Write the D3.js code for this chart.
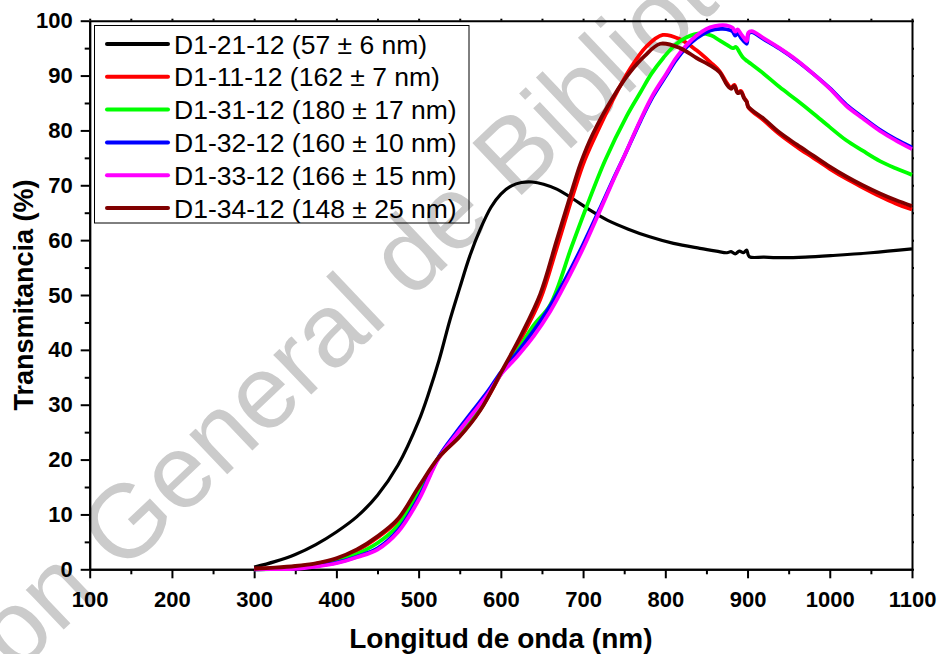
<!DOCTYPE html>
<html><head><meta charset="utf-8">
<script src="https://cdn.jsdelivr.net/npm/d3@7"></script>
<style>
body{margin:0;background:#fff}
svg{display:block}
text{font-family:"Liberation Sans",Arial,Helvetica,sans-serif}
</style>
</head><body>
<svg id="chart" width="941" height="654"></svg>
<script>
// ---------------- data ----------------
const xTickValues = [100,200,300,400,500,600,700,800,900,1000,1100];
const xMinorValues = [150,250,350,450,550,650,750,850,950,1050];
const yTickValues = [0,10,20,30,40,50,60,70,80,90,100];
const yMinorValues = [5,15,25,35,45,55,65,75,85,95];

const seriesLabels = [
  "D1-21-12 (57 \u00b1 6 nm)",
  "D1-11-12 (162 \u00b1 7 nm)",
  "D1-31-12 (180 \u00b1 17 nm)",
  "D1-32-12 (160 \u00b1 10 nm)",
  "D1-33-12 (166 \u00b1 15 nm)",
  "D1-34-12 (148 \u00b1 25 nm)"
];
const seriesColors = ["#000000","#ff0000","#00ff00","#0000ff","#ff00ff","#800000"];

const d1_21_12 = [[300,0.4],[325,1.4],[350,2.7],[375,4.5],[400,6.8],[425,9.6],[450,13.5],[475,19.0],[500,27.0],[512,32.0],[525,38.2],[538,45.4],[550,51.3],[562,57.0],[575,62.0],[588,66.0],[600,68.4],[613,69.9],[625,70.5],[638,70.6],[652,70.2],[668,69.3],[688,67.5],[708,65.5],[730,63.6],[755,62.0],[781,60.6],[810,59.4],[842,58.5],[862,58.0],[875,57.7],[880,57.9],[885,57.5],[890,58.0],[895,57.7],[899,58.2],[902,57.0],[920,56.9],[943,56.8],[970,56.9],[1004,57.2],[1050,57.7],[1100,58.4]];

const d1_11_12 = [[300,0.1],[325,0.2],[350,0.5],[375,1.0],[400,1.8],[425,3.4],[450,5.8],[475,8.9],[500,14.6],[525,20.4],[550,24.3],[575,29.1],[600,35.6],[625,42.2],[648,49.2],[668,58.6],[688,68.4],[702,74.6],[720,80.6],[737,85.8],[757,91.2],[777,95.3],[797,97.4],[818,96.6],[838,94.6],[855,92.4],[866,90.8],[875,88.6],[880,87.8],[884,88.3],[888,86.9],[892,87.2],[896,85.9],[899,85.3],[901,84.2],[920,81.8],[939,79.3],[960,77.0],[980,75.0],[1000,73.0],[1020,71.2],[1040,69.6],[1061,68.0],[1080,66.7],[1100,65.6]];

const d1_31_12 = [[300,0.0],[325,0.1],[350,0.3],[375,0.8],[400,1.5],[425,2.8],[450,4.8],[475,8.0],[500,13.8],[525,20.5],[550,25.0],[575,29.8],[600,35.6],[620,39.8],[640,44.5],[660,48.2],[686,58.8],[704,66.0],[727,74.6],[753,82.6],[770,87.0],[783,90.3],[798,93.3],[812,95.6],[826,97.0],[843,97.7],[856,97.3],[866,96.4],[876,95.5],[882,95.0],[886,95.2],[890,94.3],[895,93.2],[900,92.6],[920,90.3],[939,87.9],[960,85.5],[980,83.1],[1000,80.6],[1020,78.2],[1040,76.3],[1061,74.4],[1080,73.1],[1100,71.9]];

const d1_32_12 = [[300,0.0],[325,0.05],[350,0.15],[375,0.6],[400,1.2],[425,2.3],[450,3.8],[475,7.1],[500,13.0],[525,20.6],[545,24.8],[566,28.9],[585,32.6],[600,35.9],[620,39.5],[640,43.5],[660,48.0],[680,53.3],[700,59.2],[720,65.6],[737,71.2],[750,75.3],[770,81.8],[785,86.2],[801,90.0],[813,92.8],[826,95.2],[838,96.8],[850,97.9],[860,98.4],[870,98.5],[878,98.3],[882,98.0],[885,97.3],[888,97.7],[892,96.9],[896,96.2],[899,95.8],[901,97.6],[905,97.9],[920,96.6],[939,94.9],[960,92.7],[980,90.3],[1000,87.7],[1020,84.7],[1040,82.4],[1061,80.1],[1080,78.4],[1100,76.9]];

const d1_33_12 = [[300,0.0],[325,0.05],[350,0.1],[375,0.5],[400,1.1],[425,2.2],[450,3.6],[475,6.8],[500,12.6],[525,20.4],[545,24.4],[566,28.4],[585,32.1],[600,35.5],[620,38.8],[640,42.5],[660,47.0],[680,52.5],[700,58.5],[720,65.2],[737,71.0],[750,75.3],[770,82.0],[785,86.5],[801,90.3],[813,93.2],[826,95.6],[838,97.3],[850,98.5],[860,99.0],[870,99.2],[878,99.0],[882,98.7],[885,98.0],[888,98.4],[892,97.6],[896,96.8],[899,96.3],[901,97.8],[905,98.1],[920,96.8],[939,95.0],[960,92.8],[980,90.3],[1000,87.6],[1020,84.5],[1040,82.2],[1061,79.9],[1080,78.2],[1100,76.6]];

const d1_34_12 = [[300,0.1],[325,0.3],[350,0.6],[375,1.1],[400,2.0],[425,3.6],[450,6.0],[475,9.2],[500,15.0],[525,20.5],[550,24.2],[575,29.0],[600,35.8],[625,42.8],[648,50.2],[668,60.0],[688,69.8],[697,74.0],[712,79.4],[737,86.2],[757,90.6],[775,93.6],[794,95.8],[818,95.0],[838,93.2],[855,91.8],[866,90.6],[875,88.3],[880,87.6],[884,88.1],[888,86.8],[892,87.0],[896,85.8],[899,85.2],[901,84.3],[920,82.1],[939,79.6],[960,77.4],[980,75.4],[1000,73.4],[1020,71.6],[1040,70.0],[1061,68.5],[1080,67.3],[1100,66.2]];

const seriesData = [d1_21_12, d1_11_12, d1_31_12, d1_32_12, d1_33_12, d1_34_12];
const drawOrder = [0,1,2,3,4,5];
const watermarkText = "Direcci\u00f3n General de Bibliotecas UAQ";

// ---------------- layout ----------------
const W = 941, H = 654;
const margin = {left: 89.7, right: 29, top: 20.7, bottom: 84.7};
const svg = d3.select("#chart");

const x = d3.scaleLinear().domain([100,1100]).range([margin.left, W - margin.right]);
const y = d3.scaleLinear().domain([0,100]).range([H - margin.bottom, margin.top]);

// watermark (faint, behind the chart)
svg.append("text")
  .attr("transform", "translate(-214,893) rotate(-43.5)")
  .attr("font-size", 104)
  .attr("fill", "#cbcbcb")
  .text(watermarkText);

const fmt = d3.format("d");

// bottom axis
const gx = svg.append("g").attr("transform", `translate(0,${y(0)})`)
  .call(d3.axisBottom(x).tickValues(xTickValues).tickFormat(fmt).tickSize(9).tickSizeOuter(0).tickPadding(13));
const gxm = svg.append("g").attr("transform", `translate(0,${y(0)})`)
  .call(d3.axisBottom(x).tickValues(xMinorValues).tickSize(5).tickSizeOuter(0).tickFormat(""));
// left axis
const gy = svg.append("g").attr("transform", `translate(${x(100)},0)`)
  .call(d3.axisLeft(y).tickValues(yTickValues).tickFormat(fmt).tickSize(9).tickSizeOuter(0).tickPadding(8));
const gym = svg.append("g").attr("transform", `translate(${x(100)},0)`)
  .call(d3.axisLeft(y).tickValues(yMinorValues).tickSize(5).tickSizeOuter(0).tickFormat(""));
// top axis
const gt = svg.append("g").attr("transform", `translate(0,${y(100)})`)
  .call(d3.axisTop(x).tickValues(xTickValues.concat(xMinorValues)).tickSize(2).tickSizeOuter(0).tickFormat(""));
// right axis
const gr = svg.append("g").attr("transform", `translate(${x(1100)},0)`)
  .call(d3.axisRight(y).tickValues(yTickValues.concat(yMinorValues)).tickSize(2).tickSizeOuter(0).tickFormat(""));

[gx,gxm,gy,gym,gt,gr].forEach(g => {
  g.select(".domain").attr("stroke","#000").attr("stroke-width",2);
  g.selectAll(".tick line").attr("stroke","#000").attr("stroke-width",2);
  g.selectAll(".tick text").attr("font-size",22).attr("font-weight","bold")
    .attr("fill","#000").attr("font-family",'"Liberation Sans",Arial,sans-serif');
});

// axis titles
svg.append("text")
  .attr("x", (x(100)+x(1100))/2).attr("y", 648)
  .attr("text-anchor","middle").attr("font-size",28).attr("font-weight","bold")
  .text("Longitud de onda (nm)");
svg.append("text")
  .attr("transform", `translate(33,${(y(0)+y(100))/2}) rotate(-90)`)
  .attr("text-anchor","middle").attr("font-size",27).attr("font-weight","bold")
  .text("Transmitancia (%)");

// lines
const line = d3.line().x(d => x(d[0])).y(d => y(d[1])).curve(d3.curveCatmullRom.alpha(0.5));
const lg = svg.append("g");
drawOrder.forEach(i => {
  lg.append("path")
    .datum(seriesData[i])
    .attr("fill","none")
    .attr("stroke", seriesColors[i])
    .attr("stroke-width", i === 0 ? 3.2 : 3.8)
    .attr("stroke-linejoin","round")
    .attr("d", line);
});

// legend
const leg = svg.append("g");
leg.append("rect")
  .attr("x", 94.5).attr("y", 25.5).attr("width", 374.5).attr("height", 197.5)
  .attr("fill","none").attr("stroke","#000").attr("stroke-width",1);
const rowY0 = 44, rowStep = 32.8;
seriesLabels.forEach((lab, i) => {
  const cy = rowY0 + i*rowStep;
  leg.append("line").attr("x1",107).attr("x2",168).attr("y1",cy).attr("y2",cy)
    .attr("stroke", seriesColors[i]).attr("stroke-width",4).attr("stroke-linecap","round");
  leg.append("text").attr("x",174).attr("y",cy).attr("dy","0.36em")
    .attr("font-size",26.5).attr("fill","#000").text(lab);
});
</script>
</body></html>
